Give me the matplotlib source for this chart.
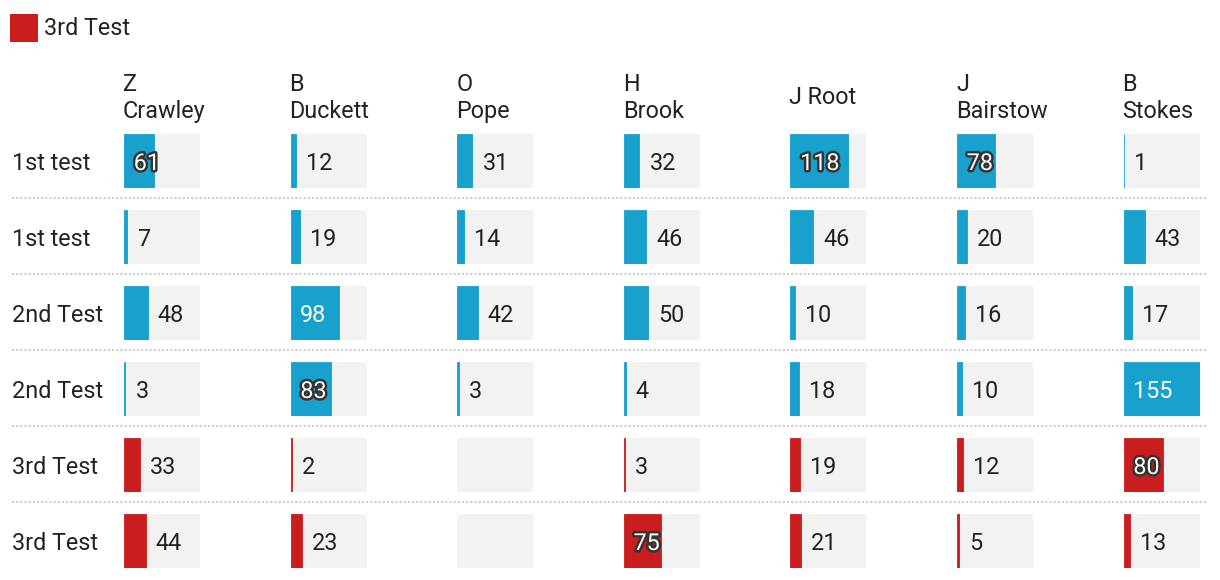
import numpy as np
import matplotlib
matplotlib.use("Agg")
import matplotlib.pyplot as plt
from matplotlib.lines import Line2D
from matplotlib.patches import Rectangle
import matplotlib.patheffects as pe

plt.rcParams['font.family'] = ['Roboto', 'DejaVu Sans']

# ---------------- data ----------------
players = ["Z\nCrawley", "B\nDuckett", "O\nPope", "H\nBrook", "J Root", "J\nBairstow", "B\nStokes"]
rows = ["1st test", "1st test", "2nd Test", "2nd Test", "3rd Test", "3rd Test"]
row1 = [61, 12, 31, 32, 118, 78, 1]
row2 = [7, 19, 14, 46, 46, 20, 43]
row3 = [48, 98, 42, 50, 10, 16, 17]
row4 = [3, 83, 3, 4, 18, 10, 155]
row5 = [33, 2, np.nan, 3, 19, 12, 80]
row6 = [44, 23, np.nan, 75, 21, 5, 13]
values = [row1, row2, row3, row4, row5, row6]
legend_label = "3rd Test"

# ---------------- style ----------------
W, H = 1220, 580
BLUE = "#18a1cd"
RED = "#c91d1e"
GRAY = "#f2f2f2"
TXT = "#222222"
FS = 16.8

col_x0 = 124
col_step = 166.6
cell_w = 76
row_y0 = 134
row_step = 76
cell_h = 54

vmax = np.nanmax(np.array(values, dtype=float))

fig = plt.figure(figsize=(W / 100, H / 100), dpi=100)

def fx(px):
    return px / W

def fy(py):
    return 1 - py / H

# legend
fig.add_artist(Rectangle((fx(10), fy(42)), 28 / W, 28 / H, transform=fig.transFigure,
                         facecolor=RED, edgecolor="none"))
fig.text(fx(44), fy(28.5), legend_label, fontsize=FS, color=TXT, va="center", ha="left")

# column headers
for j, name in enumerate(players):
    fig.text(fx(col_x0 + j * col_step - 1), fy(98), name, fontsize=FS, color=TXT,
             ha="left", va="center", linespacing=1.22)

for i, (rname, rvals) in enumerate(zip(rows, values)):
    y_top = row_y0 + i * row_step
    fig.text(fx(12), fy(y_top + cell_h / 2 + 2.5), rname, fontsize=FS, color=TXT,
             ha="left", va="center")
    color = RED if rname == legend_label else BLUE
    for j, v in enumerate(rvals):
        x_left = col_x0 + j * col_step
        ax = fig.add_axes([fx(x_left), fy(y_top + cell_h), cell_w / W, cell_h / H])
        ax.set_xlim(0, vmax)
        ax.set_ylim(0, 1)
        ax.axis("off")
        ax.barh(0.5, vmax, height=1, color=GRAY, linewidth=0)
        if np.isnan(v):
            continue
        ax.barh(0.5, v, height=1, facecolor=color, edgecolor=color, linewidth=0.6)
        label = f"{int(v)}"
        bar_px = v / vmax * cell_w
        text_px = 13 * len(label)
        dy = -1.8
        if v / vmax > 0.35:
            if bar_px - text_px - 10 >= 11:
                ax.annotate(label, (0, 0.5), xytext=(7, dy), textcoords="offset points",
                            fontsize=FS, color="white", ha="left", va="center")
            else:
                ax.annotate(label, (0, 0.5), xytext=(7, dy), textcoords="offset points",
                            fontsize=FS, color="white", ha="left", va="center",
                            path_effects=[pe.withStroke(linewidth=3.5, foreground="#333333")])
        else:
            ax.annotate(label, (v, 0.5), xytext=(7.2, dy), textcoords="offset points",
                        fontsize=FS, color=TXT, ha="left", va="center")

# dotted separators
for i in range(len(rows) - 1):
    y = row_y0 + i * row_step + cell_h + 10
    fig.add_artist(Line2D([fx(12), fx(1208)], [fy(y), fy(y)], transform=fig.transFigure,
                          color="#cccccc", linewidth=1.5, linestyle=(0, (1, 1))))

fig.savefig("out.png", dpi=100, facecolor="white")
